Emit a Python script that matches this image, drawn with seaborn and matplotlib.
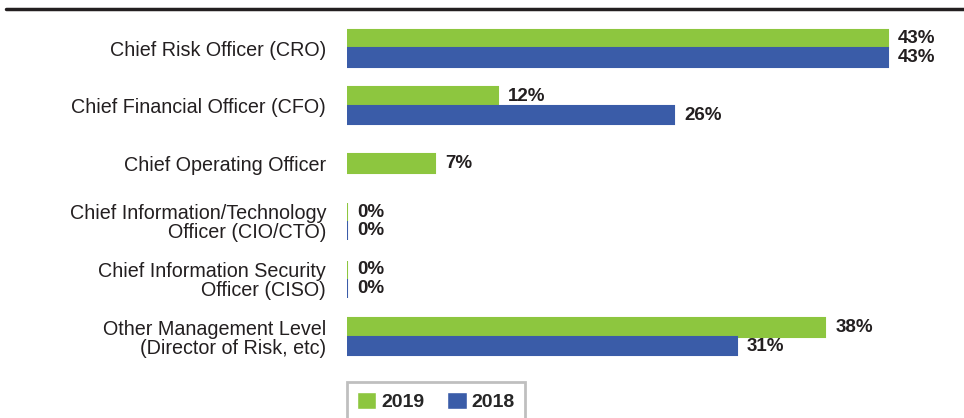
import pandas as pd
import seaborn as sns
import matplotlib
matplotlib.use('Agg')
import matplotlib.pyplot as plt
from matplotlib.lines import Line2D

# --- Data ---
ROLES = [
    'Chief Risk Officer (CRO)',
    'Chief Financial Officer (CFO)',
    'Chief Operating Officer',
    'Chief Information/Technology\nOfficer (CIO/CTO)',
    'Chief Information Security\nOfficer (CISO)',
    'Other Management Level\n(Director of Risk, etc)',
]
PCT_2019 = [43, 12, 7, 0, 0, 38]
PCT_2018 = [43, 26, None, 0, 0, 31]
YEARS = ['2019', '2018']
COLORS = {'2019': '#8dc63f', '2018': '#3a5ca8'}

df = pd.DataFrame({
    'role': ROLES * 2,
    'pct': PCT_2019 + PCT_2018,
    'year': ['2019'] * len(ROLES) + ['2018'] * len(ROLES),
})

sns.set_style('white')
plt.rcParams['font.family'] = ['Liberation Sans', 'DejaVu Sans']

fig = plt.figure(figsize=(9.64, 4.18), dpi=100)
ax = fig.add_axes([0.36, 0.127, 0.64, 0.825])

sns.barplot(data=df, y='role', x='pct', hue='year', hue_order=YEARS,
            order=ROLES, palette=COLORS, orient='h', width=0.64,
            dodge=True, saturation=1, errorbar=None, ax=ax)
# colour the edges too, so that 0% bars still show as a thin line
for cont, yr in zip(ax.containers, YEARS):
    for p in cont.patches:
        p.set_edgecolor(COLORS[yr])
        p.set_linewidth(1.5)

# COO has only a 2019 value: centre that bar on its row
coo = ax.containers[0].patches[2]
coo.set_y(coo.get_y() + coo.get_height() / 2)

for cont in ax.containers:
    ax.bar_label(cont, fmt='%d%%', padding=7, fontsize=13.5, fontweight='bold',
                 color='#231f20')

ax.set_xlim(0, 49)
ax.set_ylim(5.484, -0.484)
ax.set_xlabel('')
ax.set_ylabel('')
ax.set_xticks([])
ax.tick_params(axis='y', length=0, pad=15, labelsize=14.2, labelcolor='#231f20')
for lbl in ax.get_yticklabels():
    lbl.set_horizontalalignment('right')
    lbl.set_multialignment('right')
    lbl.set_linespacing(1.0)
sns.despine(ax=ax, left=True, bottom=True)

# legend
handles, labels = ax.get_legend_handles_labels()
ax.get_legend().remove()
leg = fig.legend(handles, labels, loc='upper left',
                 bbox_to_anchor=(347 / 964, 1 - 382 / 418), borderaxespad=0,
                 ncol=2, frameon=True, fancybox=False,
                 handlelength=1.0, handleheight=1.0,
                 handletextpad=0.25, columnspacing=1.2, borderpad=0.5,
                 prop={'weight': 'bold', 'size': 14})
leg.get_frame().set_edgecolor('#b0b0b0')
leg.get_frame().set_linewidth(2)

# top rule
fig.add_artist(Line2D([6 / 964, 1], [1 - 9 / 418] * 2, color='#231f20', lw=2.5))

fig.savefig('out.png', dpi=100)
